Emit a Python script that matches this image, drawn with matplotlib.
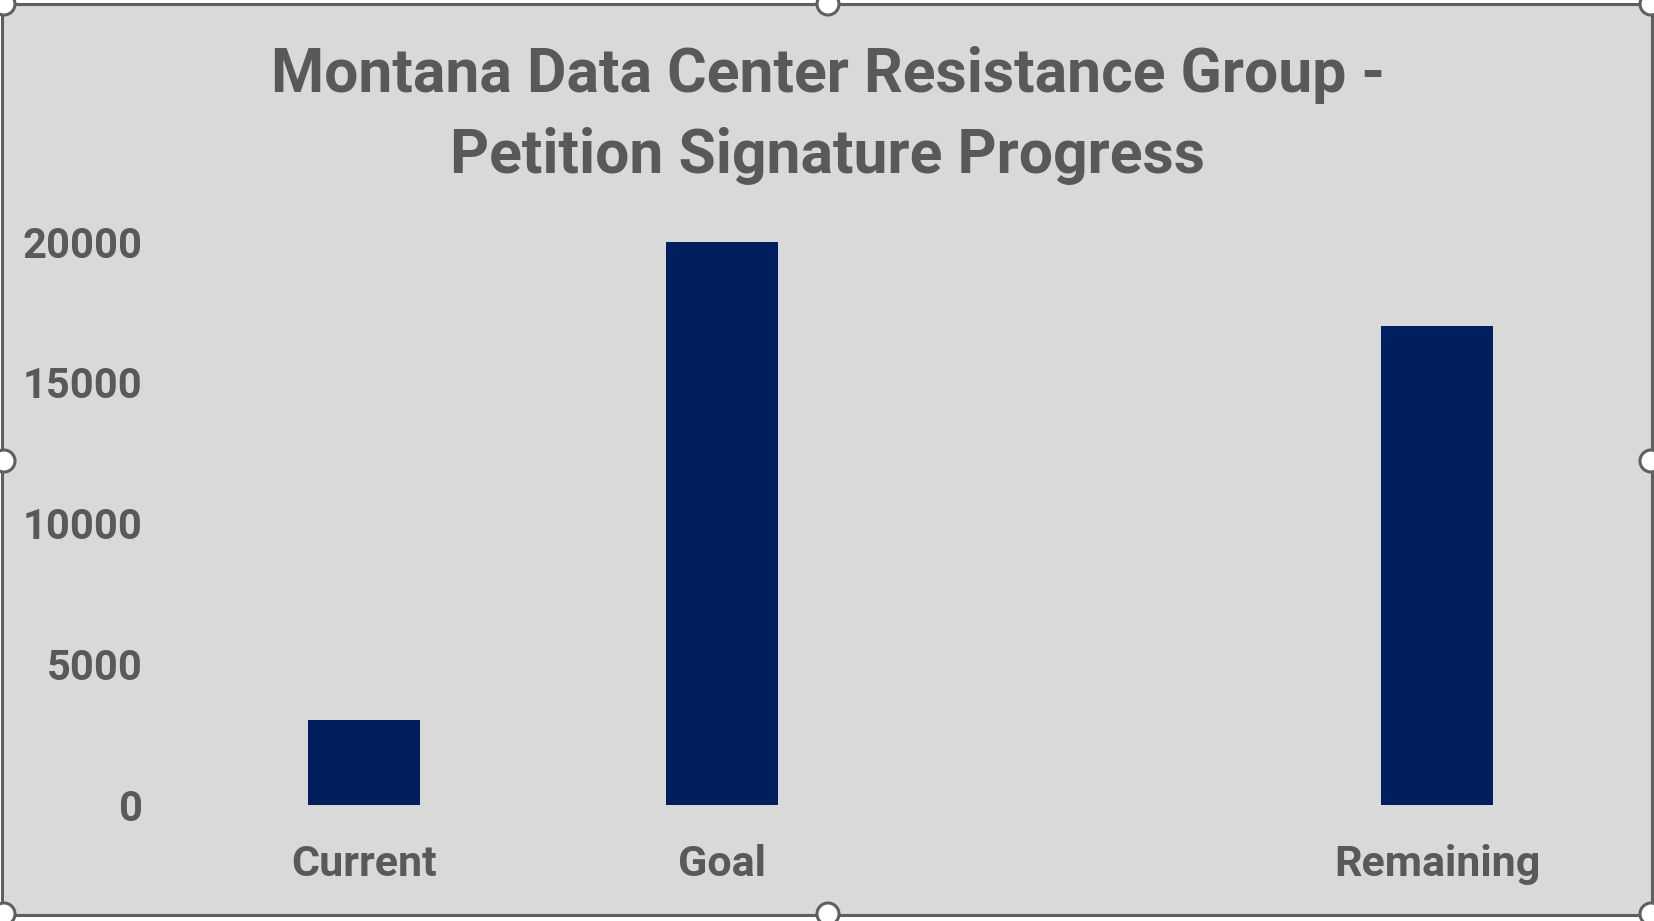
import matplotlib.pyplot as plt
from matplotlib.patches import Rectangle, Ellipse
import numpy as np

# chart data
categories = ["Current", "Goal", "", "Remaining"]
signatures = [3000, 20000, 0, 17000]
yticks = [0, 5000, 10000, 15000, 20000]
title_lines = ["Montana Data Center Resistance Group -", "Petition Signature Progress"]

W, H = 1654, 921
bg = "#D9D9D9"
txt = "#595959"
bar_color = "#001F5C"
font = "Roboto"

fig = plt.figure(figsize=(W / 100, H / 100), dpi=100)
fig.patch.set_facecolor("white")

# chart frame (like the selected Excel chart object)
frame = Rectangle((2 / W, 1 - 915 / H), 1650 / W, 911 / H, transform=fig.transFigure,
                  facecolor=bg, edgecolor="#5f5f5f", linewidth=2.2, zorder=-10)
fig.patches.append(frame)

ax = fig.add_axes([185 / W, 1 - 805 / H, 1431 / W, (805 - 241.6) / H])
ax.patch.set_alpha(0)

x = np.arange(len(categories))
ax.bar(x, signatures, width=0.313, color=bar_color, linewidth=0)
ax.set_xlim(-0.5, len(categories) - 0.5)
ax.set_ylim(0, 20000)
ax.set_xticks(x)
ax.set_xticklabels(categories)
ax.set_yticks(yticks)
ax.set_yticklabels([str(v) for v in yticks])
for s in ax.spines.values():
    s.set_visible(False)
ax.tick_params(axis="both", length=0, colors=txt)
ax.tick_params(axis="y", pad=30.5, labelsize=30)
ax.tick_params(axis="x", pad=28, labelsize=31)
for lab in ax.get_xticklabels() + ax.get_yticklabels():
    lab.set_fontfamily(font)
    lab.set_fontweight("bold")
    lab.set_color(txt)

fig.text(828 / W, 1 - 92 / H, title_lines[0], ha="center", va="baseline",
         fontsize=43.7, fontweight="bold", family=font, color=txt)
fig.text(828 / W, 1 - 173 / H, title_lines[1], ha="center", va="baseline",
         fontsize=43.7, fontweight="bold", family=font, color=txt)

# selection handles
for cx, cy in [(4, 4), (828, 4), (1651, 4), (4, 461), (1651, 461),
               (4, 914), (828, 914), (1651, 914)]:
    c = Ellipse((cx / W, 1 - cy / H), 22 / W, 22 / H, transform=fig.transFigure,
                facecolor="white", edgecolor="#5f5f5f", linewidth=2.2, zorder=5)
    fig.patches.append(c)

fig.savefig("out.png", dpi=100, facecolor=fig.get_facecolor())
